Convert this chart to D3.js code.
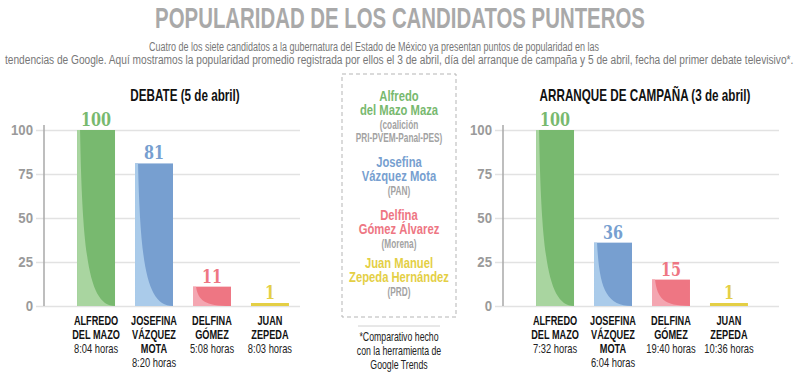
<!DOCTYPE html>
<html>
<head>
<meta charset="utf-8">
<script src="https://cdn.jsdelivr.net/npm/d3@7"></script>
<style>
  body { margin: 0; background: #fff; }
  svg { display: block; font-family: "Liberation Sans", Arial, sans-serif; }
</style>
</head>
<body>
<div id="chart"></div>
<script>
// --------------------------------------
//  Data
// --------------------------------------

const candidates = ["Alfredo", "Josefina", "Delfina", "Juan"];
const nameLines = [["ALFREDO", "DEL MAZO"], ["JOSEFINA", "VÁZQUEZ", "MOTA"], ["DELFINA", "GÓMEZ"], ["JUAN", "ZEPEDA"]];
const debateValues = [100, 81, 11, 1];
const debateHours = ["8:04 horas", "8:20 horas", "5:08 horas", "8:03 horas"];
const arranqueValues = [100, 36, 15, 1];
const arranqueHours = ["7:32 horas", "6:04 horas", "19:40 horas", "10:36 horas"];
const yTicks = [0, 25, 50, 75, 100];

const legendNames = [["Alfredo", "del Mazo Maza"], ["Josefina", "Vázquez Mota"], ["Delfina", "Gómez Álvarez"], ["Juan Manuel", "Zepeda Hernández"]];
const legendParties = [["(coalición", "PRI-PVEM-Panal-PES)"], ["(PAN)"], ["(Morena)"], ["(PRD)"]];
const footnote = ["*Comparativo hecho", "con la herramienta de", "Google Trends"];

const darkColors = ["#78b96f", "#779fd0", "#ee7683", "#e4cf45"];
const lightColors = ["#a9d5a0", "#aacbea", "#f4a6b1", "#efe08a"];

// --------------------------------------
//  Canvas
// --------------------------------------

const width = 800, height = 377;

const svg = d3.select("#chart")
  .append("svg")
    .attr("width", width)
    .attr("height", height)
    .attr("viewBox", [0, 0, width, height]);

// condensed text: the reference uses a narrow face, so squeeze horizontally
function label(parent, x, y, str, o) {
  const sx = o.sx || 0.72;
  return parent.append("text")
      .attr("transform", `translate(${x},${y}) scale(${sx},1)`)
      .attr("text-anchor", o.anchor || "middle")
      .attr("font-size", o.size)
      .attr("font-weight", o.weight || "normal")
      .attr("font-family", o.family || null)
      .attr("fill", o.fill || "#111")
      .text(str);
}

function fitLabel(parent, x, y, str, target, o) {
  const t = label(parent, x, y, str, Object.assign({}, o, { sx: 1 }));
  const sx = target / t.node().getComputedTextLength();
  t.attr("transform", `translate(${x},${y}) scale(${sx},1)`);
  return t;
}

// --------------------------------------
//  Header
// --------------------------------------

fitLabel(svg, 400, 28, "POPULARIDAD DE LOS CANDIDATOS PUNTEROS", 490,
  { size: 30, weight: "bold", fill: "#a9a9a9" });

fitLabel(svg, 149, 51, "Cuatro de los siete candidatos a la gubernatura del Estado de México ya presentan puntos de popularidad en las", 450,
  { size: 13.5, fill: "#777", anchor: "start" });

fitLabel(svg, 5, 64, "tendencias de Google. Aquí mostramos la popularidad promedio registrada por ellos el 3 de abril, día del arranque de campaña y 5 de abril, fecha del primer debate televisivo*.", 789,
  { size: 13.5, fill: "#777", anchor: "start" });

// --------------------------------------
//  Scales
// --------------------------------------

const y = d3.scaleLinear()
    .domain([0, 100])
    .range([306, 130]);

// --------------------------------------
//  Chart drawing
// --------------------------------------

function drawChart(axisX, gridEnd, values, hours, title, titleX) {

  const g = svg.append("g");

  const x = d3.scaleBand()
      .domain(candidates)
      .range([axisX, axisX + 278])
      .paddingInner(0.345)
      .paddingOuter(0.57);

  label(g, titleX, 101, title, { size: 16, weight: "bold", sx: 0.73 });

  // gridlines
  const axis = g.append("g")
      .attr("transform", `translate(${axisX}, 0)`)
      .call(d3.axisLeft(y)
          .tickValues(yTicks)
          .tickSize(-(gridEnd - axisX))
          .tickFormat(""));

  axis.select(".domain").remove();
  axis.selectAll(".tick line")
      .attr("x1", -8)
      .attr("stroke", "#e2e2e2")
      .attr("stroke-width", 1.5);

  yTicks.forEach(v => {
    label(g, axisX - 11, y(v) + 5, v, { size: 15, weight: "bold", fill: "#9a9a9a", anchor: "end", sx: 0.88 });
  });

  g.append("line")
      .attr("x1", axisX).attr("x2", axisX)
      .attr("y1", 125).attr("y2", 306)
      .attr("stroke", "#a8a8a8")
      .attr("stroke-width", 1.5);

  // bars
  const bars = g.selectAll(".bar")
    .data(values)
    .join("g")
      .attr("class", "bar");

  bars.append("rect")
      .attr("x", (d, i) => x(candidates[i]))
      .attr("y", d => Math.min(y(d), y(0) - 3))
      .attr("width", x.bandwidth())
      .attr("height", d => Math.max(3, y(0) - y(d)))
      .attr("fill", (d, i) => darkColors[i]);

  bars.filter(d => d > 5)
    .append("path")
      .attr("fill", (d, i) => lightColors[i])
      .attr("d", (d, i) => {
        const l = x(candidates[i]), w = x.bandwidth();
        const t = y(d), b = y(0), h = b - t;
        return `M${l},${b}L${l},${t}L${l + Math.min(3, w * 0.08)},${t}` +
          `C${l + w * 0.14},${t + h * 0.7} ${l + w * 0.3},${b} ${l + w},${b}Z`;
      });

  // value labels
  values.forEach((d, i) => {
    label(g, x(candidates[i]) + x.bandwidth() / 2, Math.min(y(d), y(0) - 3) - 4, d,
      { size: 18, weight: "bold", fill: darkColors[i], family: "\"DejaVu Serif\", serif", sx: 0.8 });
  });

  // category labels
  candidates.forEach((c, i) => {
    const cx = x(c) + x.bandwidth() / 2;
    nameLines[i].forEach((line, j) => {
      label(g, cx, 325 + j * 14, line, { size: 13.5, weight: "bold", sx: 0.68 });
    });
    label(g, cx, 325 + nameLines[i].length * 14, hours[i], { size: 13, fill: "#222", sx: 0.72 });
  });
}

drawChart(44, 300, debateValues, debateHours, "DEBATE (5 de abril)", 185);
drawChart(503, 779, arranqueValues, arranqueHours, "ARRANQUE DE CAMPAÑA (3 de abril)", 645);

// --------------------------------------
//  Legend box
// --------------------------------------

svg.append("rect")
    .attr("x", 342)
    .attr("y", 74)
    .attr("width", 114)
    .attr("height", 243)
    .attr("fill", "none")
    .attr("stroke", "#b5b5b5")
    .attr("stroke-dasharray", "4,3");

const legendTop = [101, 167, 220, 268];

legendNames.forEach((lines, i) => {
  let yy = legendTop[i];
  lines.forEach(line => {
    label(svg, 399, yy, line, { size: 15, weight: "bold", fill: darkColors[i], sx: 0.75 });
    yy += 14;
  });
  yy -= 0.5;
  legendParties[i].forEach(line => {
    label(svg, 399, yy, line, { size: 12.5, weight: "bold", fill: "#a3a3a3", sx: 0.66 });
    yy += 13.5;
  });
});

// --------------------------------------
//  Footnote
// --------------------------------------

svg.append("line")
    .attr("x1", 358).attr("x2", 440)
    .attr("y1", 326).attr("y2", 326)
    .attr("stroke", "#d0d0d0");

footnote.forEach((line, i) => {
  label(svg, 399, 341 + i * 14, line, { size: 12.5, fill: "#222", sx: 0.7 });
});
</script>
</body>
</html>
